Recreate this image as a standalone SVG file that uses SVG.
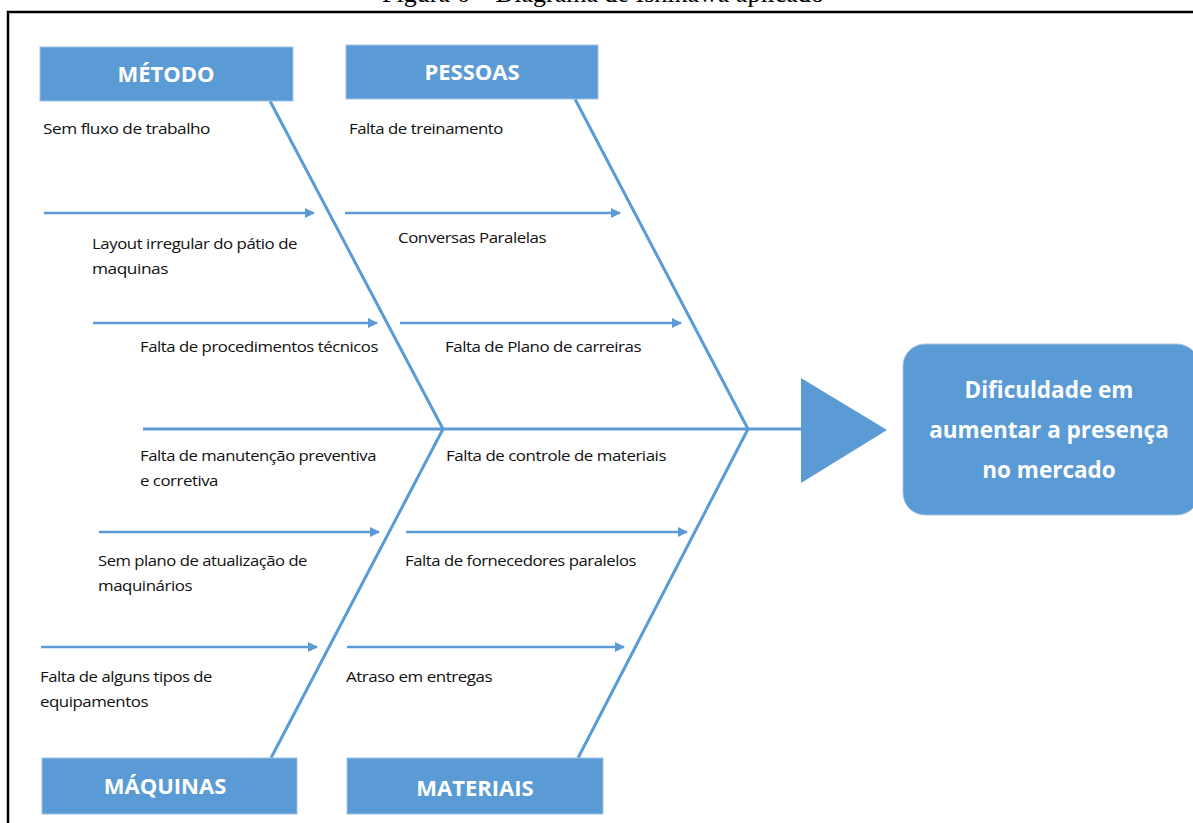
<svg xmlns="http://www.w3.org/2000/svg" width="1193" height="823" viewBox="0 0 1193 823">
<style>
.hdr{fill:#5B9BD5;stroke:#9DC3E6;stroke-width:1}
.hdrt{font-family:"Open Sans","Liberation Sans",sans-serif;font-weight:bold;font-size:22px;fill:#fff;text-anchor:middle}
.lbl{font-family:"Open Sans","Liberation Sans",sans-serif;font-size:14.5px;fill:#111;letter-spacing:-0.4px}
.bone{stroke:#5B9BD5;stroke-width:3;fill:none}
.sub{stroke:#5B9BD5;stroke-width:2.5;fill:none;marker-end:url(#ah)}
.eff{font-family:"Open Sans","Liberation Sans",sans-serif;font-weight:bold;font-size:22.5px;fill:#fff;text-anchor:middle}
</style>
<defs>
<marker id="ah" viewBox="0 0 10 10" refX="9" refY="5" markerWidth="4" markerHeight="4" orient="auto" markerUnits="strokeWidth">
<path d="M0,0 L10,5 L0,10 z" fill="#5B9BD5"/>
</marker>
</defs>
<rect width="1193" height="823" fill="#fff"/>
<text x="603" y="2" font-family="Liberation Serif,serif" font-size="26" text-anchor="middle" fill="#000">Figura 6 – Diagrama de Ishikawa aplicado</text>
<path d="M8,823 V12 H1193" fill="none" stroke="#000" stroke-width="2.5"/>
<g id="connectors">
<line class="bone" x1="143" y1="429" x2="802" y2="429"/>
<line class="bone" x1="270" y1="101" x2="443" y2="429"/>
<line class="bone" x1="443" y1="429" x2="271" y2="758"/>
<line class="bone" x1="575" y1="99" x2="748" y2="429"/>
<line class="bone" x1="748" y1="429" x2="578" y2="758"/>
<line class="sub" x1="44" y1="213" x2="314" y2="213"/>
<line class="sub" x1="345" y1="213" x2="620" y2="213"/>
<line class="sub" x1="93" y1="323" x2="377" y2="323"/>
<line class="sub" x1="400" y1="323" x2="681" y2="323"/>
<line class="sub" x1="99" y1="532" x2="379" y2="532"/>
<line class="sub" x1="406" y1="532" x2="687" y2="532"/>
<line class="sub" x1="41" y1="647" x2="317" y2="647"/>
<line class="sub" x1="347" y1="647" x2="624" y2="647"/>
</g>
<g id="metodo">
<rect class="hdr" x="40" y="47" width="253" height="54"/>
<text class="hdrt" x="166" y="82">MÉTODO</text>
</g>
<g id="pessoas">
<rect class="hdr" x="346" y="45" width="252" height="54"/>
<text class="hdrt" x="472" y="80">PESSOAS</text>
</g>
<g id="maquinas">
<rect class="hdr" x="42" y="758" width="255" height="56"/>
<text class="hdrt" x="165" y="794">MÁQUINAS</text>
</g>
<g id="materiais">
<rect class="hdr" x="347" y="758" width="256" height="56"/>
<text class="hdrt" x="475" y="796">MATERIAIS</text>
</g>
<g id="efeito">
<polygon points="801,378 887,430 801,483" fill="#5B9BD5"/>
<rect x="903" y="344" width="296" height="171" rx="22" fill="#5B9BD5" stroke="#A9C4E0" stroke-width="1"/>
<text class="eff" x="1049" y="398">Dificuldade em</text>
<text class="eff" x="1049" y="438">aumentar a presença</text>
<text class="eff" x="1049" y="478">no mercado</text>
</g>
<g id="causas">
<text class="lbl" x="43" y="134" textLength="167" lengthAdjust="spacingAndGlyphs">Sem  fluxo de trabalho</text>
<text class="lbl" x="349" y="134" textLength="154" lengthAdjust="spacingAndGlyphs">Falta de treinamento</text>
<text class="lbl" x="92" y="249" textLength="205" lengthAdjust="spacingAndGlyphs">Layout irregular do pátio de</text>
<text class="lbl" x="92" y="274" textLength="76" lengthAdjust="spacingAndGlyphs">maquinas</text>
<text class="lbl" x="398" y="243" textLength="148" lengthAdjust="spacingAndGlyphs">Conversas Paralelas</text>
<text class="lbl" x="140" y="352" textLength="238" lengthAdjust="spacingAndGlyphs">Falta de procedimentos técnicos</text>
<text class="lbl" x="445" y="352" textLength="196" lengthAdjust="spacingAndGlyphs">Falta de Plano de carreiras</text>
<text class="lbl" x="140" y="461" textLength="236" lengthAdjust="spacingAndGlyphs">Falta de manutenção preventiva</text>
<text class="lbl" x="140" y="486" textLength="78" lengthAdjust="spacingAndGlyphs">e corretiva</text>
<text class="lbl" x="446" y="461" textLength="220" lengthAdjust="spacingAndGlyphs">Falta de controle de materiais</text>
<text class="lbl" x="98" y="566" textLength="209" lengthAdjust="spacingAndGlyphs">Sem plano de atualização de</text>
<text class="lbl" x="98" y="591" textLength="94" lengthAdjust="spacingAndGlyphs">maquinários</text>
<text class="lbl" x="405" y="566" textLength="231" lengthAdjust="spacingAndGlyphs">Falta de fornecedores paralelos</text>
<text class="lbl" x="40" y="682" textLength="172" lengthAdjust="spacingAndGlyphs">Falta de alguns tipos de</text>
<text class="lbl" x="40" y="707" textLength="108" lengthAdjust="spacingAndGlyphs">equipamentos</text>
<text class="lbl" x="346" y="682" textLength="146" lengthAdjust="spacingAndGlyphs">Atraso em entregas</text>
</g>
</svg>
